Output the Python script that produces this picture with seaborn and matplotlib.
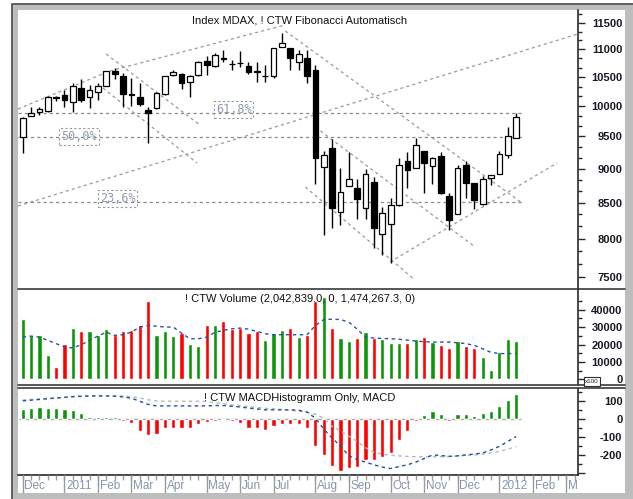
import numpy as np
import pandas as pd
import matplotlib
matplotlib.use('Agg')
import matplotlib.pyplot as plt
import matplotlib.ticker as mticker
from matplotlib.patches import Rectangle
from matplotlib.lines import Line2D
import seaborn as sns

sns.set_theme(style='white')
plt.rcParams['font.family'] = ['Liberation Sans', 'DejaVu Sans']

# weekly MDAX candles, first week starts 2010-11-29
start = pd.Timestamp('2010-11-29')
opens = [9490, 9835, 9900, 9918, 10150, 10180, 10075, 10305, 10150, 10245,
         10350, 10610, 10520, 10205, 10145, 9935, 9960, 10200, 10535, 10555,
         10420, 10535, 10790, 10700, 10840, 10740, 10750, 10705, 10600, 10510,
         10520, 11050, 11020, 10770, 10845, 10625, 9030, 9325, 8365, 8735,
         8710, 8420, 8800, 8060, 8200, 8465, 9110, 9005, 9275, 9045,
         9200, 8590, 8335, 9055, 8785, 8480, 8855, 8915, 9210, 9470]
highs = [9820, 9990, 9990, 10165, 10165, 10275, 10400, 10465, 10360, 10395,
         10610, 10660, 10570, 10485, 10400, 9990, 10245, 10520, 10625, 10575,
         10535, 10795, 10880, 10940, 10990, 10805, 10975, 10775, 10775, 10720,
         11020, 11305, 11025, 10985, 10985, 10715, 9265, 9455, 9005, 9255,
         8845, 8995, 8880, 8430, 8565, 9160, 9255, 9470, 9275, 9185,
         9255, 8635, 9055, 9110, 8785, 8895, 8905, 9275, 9660, 9885]
lows = [9245, 9825, 9850, 9905, 10085, 9990, 9905, 10075, 9965, 10105,
        10345, 10465, 9990, 10000, 10000, 9400, 9945, 10190, 10520, 10290,
        10160, 10520, 10535, 10685, 10775, 10625, 10685, 10555, 10420, 10420,
        10480, 11050, 10625, 10625, 10395, 8770, 8050, 8145, 8190, 8735,
        8270, 8270, 7880, 7785, 7680, 8445, 8710, 9005, 8635, 8770,
        8620, 8120, 8335, 8565, 8410, 8465, 8760, 8915, 9160, 9470]
closes = [9800, 9885, 9950, 10160, 10140, 10105, 10335, 10105, 10265, 10345,
          10605, 10555, 10200, 10195, 10035, 9880, 10220, 10520, 10585, 10390,
          10520, 10775, 10715, 10895, 10830, 10730, 10745, 10595, 10590, 10525,
          11020, 11125, 10840, 10910, 10520, 9160, 9210, 8420, 8650, 8845,
          8555, 8915, 8150, 8350, 8465, 9055, 8980, 9365, 9085, 9160,
          8640, 8260, 9015, 8785, 8540, 8845, 8905, 9220, 9510, 9810]

volume = [34500, 25400, 25400, 14000, 7200, 20500, 29400, 27500, 27500, 25600,
          28800, 25200, 27500, 28100, 31300, 45100, 25200, 27500, 24600, 26500,
          20500, 19000, 31300, 30900, 33700, 29000, 29400, 26700, 27500, 22400,
          26500, 28100, 29400, 24200, 25200, 45100, 47000, 29400, 23700, 21800,
          23900, 27100, 23700, 23300, 21100, 21100, 21100, 22900, 24200, 21400,
          19500, 18000, 22000, 19000, 18000, 12900, 5300, 15700, 22900, 21800]
vol_avg = [24200, 24800, 24200, 22400, 20500, 18600, 18000, 19900, 22400, 24800,
           27100, 25200, 25600, 27100, 30000, 30900, 30500, 30000, 30000, 26500,
           23300, 23300, 24200, 27000, 28100, 29000, 29400, 28800, 27500, 26200,
           25600, 25600, 25600, 25600, 25600, 30900, 34300, 34500, 34300, 32800,
           28800, 24200, 23700, 23500, 23300, 23000, 22500, 22000, 21600, 21400,
           21400, 21400, 21000, 20500, 19500, 17500, 15500, 14800, 14800, 14800]

macd_hist = [59, 65, 68, 65, 61, 56, 52, 37, 14, 10,
             14, 14, -9, -22, -65, -91, -83, -50, -50, -50,
             -47, -28, -17, -9, -3, -9, -22, -50, -50, -59,
             -41, -28, -28, -28, -50, -152, -198, -263, -287, -272,
             -268, -231, -231, -213, -189, -115, -69, -13, 24, 46,
             28, -10, 28, 28, 18, 33, 46, 74, 105, 139]
macd_line = [102, 106, 110, 114, 118, 122, 126, 128, 130, 130,
             130, 128, 124, 117, 100, 82, 74, 74, 74, 74,
             74, 74, 74, 76, 76, 72, 68, 62, 57, 52,
             52, 52, 52, 50, 40, 5, -55, -106, -150, -205,
             -225, -240, -255, -268, -276, -265, -255, -240, -220, -200,
             -203, -208, -205, -200, -195, -189, -172, -152, -125, -97]
macd_signal = [107, 110, 113, 116, 119, 122, 125, 127, 129, 130,
               130, 130, 129, 125, 118, 108, 102, 100, 100, 100,
               100, 100, 98, 92, 86, 80, 75, 70, 65, 61,
               58, 54, 50, 45, 38, 28, 5, -40, -65, -95,
               -125, -160, -185, -195, -202, -205, -208, -210, -210, -210,
               -210, -208, -206, -202, -200, -195, -188, -180, -168, -152]

month_labels = ['Dec', '2011', 'Feb', 'Mar', 'Apr', 'May', 'Jun', 'Jul',
                'Aug', 'Sep', 'Oct', 'Nov', 'Dec', '2012', 'Feb', 'Mar']

fib_levels = [9890, 9488, 8513]
fib_labels = ['61,8%', '50,0%', '23,6%']

# trend lines: (week, price) -> (week, price)
trend_lines = [((-0.56, 9950), (10.44, 10608)),
               ((10.44, 10608), (31.38, 11461)),
               ((31.4, 11346), (59.7, 8494)),
               ((9.97, 10915), (21.2, 9685)),
               ((9.6, 10307), (20.85, 9085)),
               ((-0.56, 8451), (66.4, 11289)),
               ((33.8, 8725), (46.9, 7461)),
               ((35.6, 9589), (54.1, 7888)),
               ((43.9, 7690), (63.9, 9085))]

GREEN = '#0c960c'
RED = '#ff0000'
W, H = 633, 499
XMIN, XMAX = -0.56, 66.4


def fbox(x0, y0, x1, y1):
    return [x0 / W, 1 - y1 / H, (x1 - x0) / W, (y1 - y0) / H]


fig = plt.figure(figsize=(W / 100, H / 100), dpi=100)
fig.patch.set_facecolor('white')
fig.patches.append(Rectangle((12 / W, -0.01), 1, 1 - 4 / H + 0.01, transform=fig.transFigure,
                             fc='#bdbdbd', ec='#4a4a4a', lw=1.2, zorder=-10))
fig.patches.append(Rectangle((18 / W, 1 - 493 / H), (625 - 18) / W, (493 - 10) / H,
                             transform=fig.transFigure, fc='white', ec='none', zorder=-9))

ax1 = fig.add_axes(fbox(18, 10, 578, 289))
ax2 = fig.add_axes(fbox(18, 289, 578, 385))
ax3 = fig.add_axes(fbox(18, 388, 578, 475))
ax4 = fig.add_axes(fbox(18, 475, 578, 493))

weeks = np.arange(len(opens))
o, h, l, c = map(np.array, (opens, highs, lows, closes))
up = c >= o

# ---- price panel
ax1.set_yscale('log')
ax1.vlines(weeks, l, h, color='black', lw=1, zorder=2)
ax1.bar(weeks, np.abs(c - o), bottom=np.minimum(o, c), width=0.68,
        color=np.where(up, 'white', 'black'), edgecolor='black', linewidth=0.9, zorder=3)
for lev in fib_levels:
    ax1.plot([XMIN, 59.7], [lev, lev], color='#8a8a8a', lw=0.9, ls=(0, (2.5, 2.5)), zorder=1)
for (x0, y0), (x1, y1) in trend_lines:
    ax1.plot([x0, x1], [y0, y1], color='#9a9a9a', lw=0.9, ls=(0, (2.5, 2.5)), zorder=1)
for xp, yp, txt in [(23.1, 9942, fib_labels[0]), (4.6, 9499, fib_labels[1]), (9.25, 8558, fib_labels[2])]:
    ax1.text(xp, yp, txt, ha='left', va='center', fontsize=8.5, family='DejaVu Sans Mono',
             color='#8c9bb0', zorder=4,
             bbox=dict(boxstyle='square,pad=0.15', fc='none', ec='#9a9a9a', lw=0.8, ls=(0, (2, 2))))
ax1.set_ylim(7349, 11754)
ax1.yaxis.set_major_locator(mticker.FixedLocator(np.arange(7500, 11600, 500)))
ax1.yaxis.set_minor_locator(mticker.FixedLocator(np.arange(7500, 11800, 500 / 3)))
ax1.yaxis.set_major_formatter(mticker.FuncFormatter(lambda v, p: f'{v:.0f}'))
ax1.yaxis.set_minor_formatter(mticker.NullFormatter())
ax1.text(0.503, 0.962, 'Index MDAX, ! CTW Fibonacci Automatisch', transform=ax1.transAxes,
         ha='center', va='center', fontsize=8, color='#111111')

# ---- volume panel
vol_df = pd.DataFrame({'week': weeks, 'volume': volume, 'dir': np.where(up, 'up', 'down')})
sns.barplot(data=vol_df, x='week', y='volume', hue='dir', hue_order=['up', 'down'],
            palette={'up': GREEN, 'down': RED}, native_scale=True, dodge=False, width=0.5,
            saturation=1, errorbar=None, legend=False, ax=ax2)
sns.lineplot(x=weeks, y=vol_avg, ax=ax2, color='#2a5599', linewidth=1, linestyle=(0, (2.5, 2.5)))
ax2.set_ylim(-3200, 51800)
ax2.yaxis.set_major_locator(mticker.FixedLocator([0, 10000, 20000, 30000, 40000]))
ax2.yaxis.set_minor_locator(mticker.FixedLocator(np.arange(5000, 50001, 10000)))
ax2.yaxis.set_major_formatter(mticker.FuncFormatter(lambda v, p: f'{v:.0f}'))
ax2.text(0.503, 0.895, '! CTW Volume (2,042,839.0, 0, 1,474,267.3, 0)', transform=ax2.transAxes,
         ha='center', va='center', fontsize=8, color='#111111')

# ---- MACD panel
macd_df = pd.DataFrame({'week': weeks, 'hist': macd_hist,
                        'sign': np.where(np.array(macd_hist) >= 0, 'pos', 'neg')})
sns.barplot(data=macd_df, x='week', y='hist', hue='sign', hue_order=['pos', 'neg'],
            palette={'pos': GREEN, 'neg': RED}, native_scale=True, dodge=False, width=0.5,
            saturation=1, errorbar=None, legend=False, ax=ax3)
ax3.hlines(0, -0.4, 59.6, color='#a8a8a8', lw=1, zorder=0)
sns.lineplot(x=weeks, y=macd_signal, ax=ax3, color='#b8b8b8', linewidth=1, linestyle=(0, (2.5, 2.5)))
sns.lineplot(x=weeks, y=macd_line, ax=ax3, color='#24529a', linewidth=1, linestyle=(0, (2.5, 2.5)))
ax3.set_ylim(-312, 174)
ax3.yaxis.set_major_locator(mticker.FixedLocator([-300, -200, -100, 0, 100]))
ax3.yaxis.set_minor_locator(mticker.FixedLocator([-250, -150, -50, 50, 150]))
ax3.yaxis.set_major_formatter(mticker.FuncFormatter(lambda v, p: '' if v < -250 else f'{v:.0f}'))
ax3.text(0.503, 0.885, '! CTW MACDHistogramm Only, MACD', transform=ax3.transAxes,
         ha='center', va='center', fontsize=8, color='#111111')

for ax in (ax1, ax2, ax3):
    ax.set_xlim(XMIN, XMAX)
    ax.set_facecolor('none')
    ax.set_xlabel('')
    ax.set_ylabel('')
    for s in ('left', 'top', 'bottom'):
        ax.spines[s].set_visible(False)
    ax.spines['right'].set_color('#2a2a2a')
    ax.spines['right'].set_linewidth(1.2)
    ax.yaxis.tick_right()
    ax.tick_params(axis='x', bottom=False, labelbottom=False)
    ax.tick_params(axis='y', which='major', direction='out', length=5, width=1, color='#2a2a2a',
                   pad=27, labelsize=8, labelcolor='#1a1a24')
    ax.tick_params(axis='y', which='minor', direction='out', length=3, width=1, color='#2a2a2a')
    ax.grid(False)
    plt.setp(ax.get_yticklabels(), ha='right', fontweight='bold')
ax3.spines['bottom'].set_visible(True)
ax3.spines['bottom'].set_color('#2a2a2a')
ax3.spines['bottom'].set_linewidth(1.2)

# ---- date strip
month_starts = pd.date_range('2010-12-01', '2012-03-31', freq='BMS')
month_pos = [(d - start).days // 7 for d in month_starts]
ax4.set_xlim(XMIN, XMAX)
ax4.set_ylim(0, 1)
ax4.axis('off')
ax4.vlines(np.arange(0, 67), 0.75, 1, color='#9a9a9a', lw=1)
ax4.vlines(month_pos, 0, 1, color='#9a9a9a', lw=1)
for pos, lab in zip(month_pos, month_labels):
    ax4.text(pos + 0.2, 0.4, lab, ha='left', va='center', fontsize=8.5, color='#8595ad', clip_on=True)

# separators
for y, x1 in [(289, 625), (385, 625), (388, 625)]:
    fig.add_artist(Line2D([18 / W, x1 / W], [1 - y / H, 1 - y / H], transform=fig.transFigure,
                          color='#3a3a3a', lw=1.2))
fig.text(592 / W, 1 - 381.5 / H, 'x100', fontsize=4.5, ha='center', va='center',
         bbox=dict(boxstyle='square,pad=0.25', fc='white', ec='#303030', lw=0.8))

fig.savefig('out.png', dpi=100)
